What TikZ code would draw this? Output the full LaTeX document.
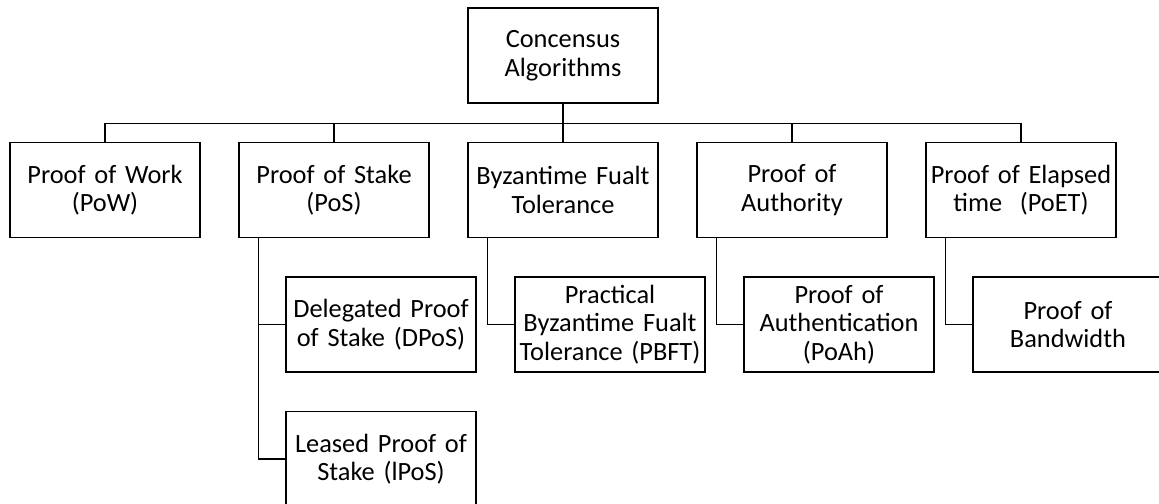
\documentclass[tikz,border=0pt]{standalone}
\usepackage{fontspec}
\setmainfont{Carlito}
\usetikzlibrary{positioning}

\begin{document}
\begin{tikzpicture}[node distance=2.69cm, auto]

	% Define custom style for the algorithm boxes
	\tikzstyle{algo} = [rectangle, draw, thick, text width=3.7cm, inner xsep=0.05cm, align=center,
	minimum height=1.9cm, font=\fontsize{15}{16.3}\selectfont]
	\tikzstyle{link} = [thick]

	% Fix the size of the page
	\useasboundingbox (-11.26,1.11) rectangle (11.92,-8.95);

	% Root and first level
	\node[algo] (root) {Concensus \\ Algorithms};
	\node[algo, below of=root] (bft) {Byzantime Fualt \\ Tolerance};
	\node[algo, node distance=4.58cm, left of=bft] (pos) {Proof of Stake \\ (PoS)};
	\node[algo, node distance=4.58cm, left of=pos] (pow) {Proof of Work \\ (PoW)};
	\node[algo, node distance=4.58cm, right of=bft] (poa) {Proof of \\ Authority};
	\node[algo, node distance=4.58cm, right of=poa] (poet) {Proof of Elapsed \\ time~~(PoET)};

	% Second level
	\node[algo, below of=pos, xshift=0.94cm] (dpos) {Delegated Proof \\ of Stake (DPoS)};
	\node[algo, below of=dpos] (lpos) {Leased Proof of \\ Stake (lPoS)};
	\node[algo, below of=bft, xshift=0.94cm] (pbft) {Practical \\ Byzantime Fualt \\ Tolerance (PBFT)};
	\node[algo, below of=poa, xshift=0.94cm] (poah) {Proof of \\ Authentication \\ (PoAh)};
	\node[algo, below of=poet, xshift=0.94cm] (pob) {Proof of \\ Bandwidth};

	% Lines from the root to the first level
	\draw[link] (root.south) -- ++(0,-0.4) -| (pow.north);
	\draw[link] (root.south) -- ++(0,-0.4) -| (pos.north);
	\draw[link] (root.south) -- (bft.north);
	\draw[link] (root.south) -- ++(0,-0.4) -| (poa.north);
	\draw[link] (root.south) -- ++(0,-0.4) -| (poet.north);

	% Lines to the second level
	\draw[link] ([xshift=0.4cm]pos.south west) |- (dpos.west);
	\draw[link] ([xshift=0.4cm]pos.south west) |- (lpos.west);
	\draw[link] ([xshift=0.4cm]bft.south west) |- (pbft.west);
	\draw[link] ([xshift=0.4cm]poa.south west) |- (poah.west);
	\draw[link] ([xshift=0.4cm]poet.south west) |- (pob.west);

\end{tikzpicture}
\end{document}
